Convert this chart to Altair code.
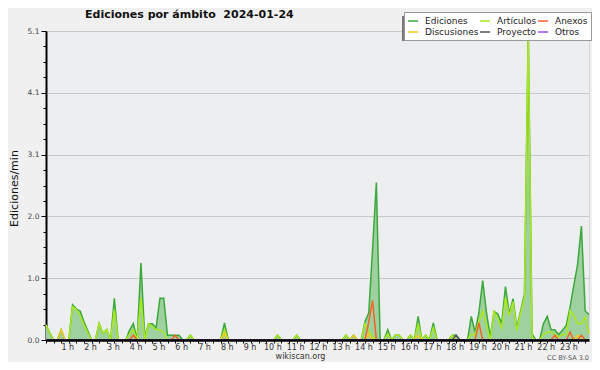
import altair as alt
import pandas as pd

# ---------------- data (one point every 10 minutes, 00:00 .. 23:50) ----------------
STEP_MIN = 10
series_names = ["Ediciones", "Artículos", "Anexos", "Discusiones", "Proyecto", "Otros"]
series_colors = ["#3ba83b", "#a8e81c", "#f26428", "#f5c81e", "#555555", "#9a4df0"]
draw_order = ["Ediciones", "Artículos", "Discusiones", "Anexos", "Proyecto", "Otros"]

ediciones = [
    0.25, 0.12, 0, 0, 0.17, 0, 0, 0.58, 0.51, 0.48, 0.30, 0.15,
    0, 0, 0.27, 0.11, 0.17, 0, 0.69, 0, 0, 0, 0.16, 0.27,
    0, 1.27, 0.05, 0.27, 0.27, 0.20, 0.69, 0.69, 0.08, 0.08, 0.08, 0.08,
    0, 0, 0.08, 0, 0, 0, 0, 0, 0, 0, 0, 0.28,
    0, 0, 0, 0, 0, 0, 0, 0, 0, 0, 0, 0,
    0, 0.08, 0, 0, 0, 0, 0.08, 0, 0, 0, 0, 0,
    0, 0, 0, 0, 0, 0, 0, 0.08, 0, 0.08, 0, 0,
    0.30, 0.45, 1.50, 2.60, 0, 0, 0.17, 0, 0.08, 0.08, 0, 0,
    0.08, 0, 0.39, 0, 0.08, 0, 0.28, 0, 0, 0, 0, 0.08,
    0.08, 0, 0, 0, 0.39, 0.13, 0.45, 0.98, 0.45, 0.05, 0.47, 0.43,
    0.27, 0.88, 0.43, 0.68, 0.20, 0.48, 0.76, 5.10, 0.10, 0, 0, 0.27,
    0.39, 0.17, 0.17, 0.09, 0.16, 0.24, 0.54, 0.90, 1.25, 1.88, 0.48, 0.42,
]
articulos = [
    0.25, 0.12, 0, 0, 0, 0, 0, 0.55, 0.50, 0.40, 0.25, 0.12,
    0, 0, 0.27, 0.11, 0.17, 0, 0.50, 0, 0, 0, 0.10, 0.17,
    0, 0.70, 0, 0.27, 0.22, 0.17, 0.17, 0.12, 0, 0, 0, 0,
    0, 0, 0.08, 0, 0, 0, 0, 0, 0, 0, 0, 0.17,
    0, 0, 0, 0, 0, 0, 0, 0, 0, 0, 0, 0,
    0, 0.08, 0, 0, 0, 0, 0.08, 0, 0, 0, 0, 0,
    0, 0, 0, 0, 0, 0, 0, 0.08, 0, 0, 0, 0,
    0.27, 0.15, 0.05, 0, 0, 0, 0.10, 0, 0.08, 0.08, 0, 0,
    0.08, 0, 0.27, 0, 0.08, 0, 0.20, 0, 0, 0, 0, 0.08,
    0, 0, 0, 0, 0.09, 0.09, 0.30, 0.48, 0.25, 0, 0.47, 0.35,
    0.20, 0.70, 0.40, 0.63, 0.15, 0.45, 0.70, 5.05, 0.05, 0, 0, 0.09,
    0.13, 0.13, 0.09, 0.05, 0.09, 0.09, 0.48, 0.40, 0.27, 0.27, 0.38, 0.10,
]
anexos = [
    0, 0, 0, 0, 0, 0, 0, 0, 0, 0, 0, 0,
    0, 0, 0, 0, 0, 0, 0, 0, 0, 0, 0, 0.08,
    0, 0, 0, 0, 0, 0, 0, 0, 0, 0, 0.08, 0,
    0, 0, 0, 0, 0, 0, 0, 0, 0, 0, 0, 0,
    0, 0, 0, 0, 0, 0, 0, 0, 0, 0, 0, 0,
    0, 0, 0, 0, 0, 0, 0, 0, 0, 0, 0, 0,
    0, 0, 0, 0, 0, 0, 0, 0, 0, 0, 0, 0,
    0, 0.30, 0.65, 0, 0, 0, 0, 0, 0, 0, 0, 0,
    0, 0, 0, 0, 0, 0, 0, 0, 0, 0, 0, 0,
    0, 0, 0, 0, 0, 0, 0.28, 0, 0, 0, 0, 0,
    0, 0, 0, 0, 0, 0, 0, 0, 0, 0, 0, 0,
    0, 0, 0.08, 0, 0, 0, 0.13, 0, 0, 0.08, 0, 0,
]
discusiones = [
    0, 0, 0, 0, 0.17, 0, 0, 0, 0, 0, 0, 0,
    0, 0, 0, 0, 0, 0, 0, 0, 0, 0, 0, 0,
    0, 0, 0, 0, 0, 0, 0, 0, 0, 0, 0, 0,
    0, 0, 0, 0, 0, 0, 0, 0, 0, 0, 0, 0.10,
    0, 0, 0, 0, 0, 0, 0, 0, 0, 0, 0, 0,
    0, 0, 0, 0, 0, 0, 0, 0, 0, 0, 0, 0,
    0, 0, 0, 0, 0, 0, 0, 0, 0, 0.08, 0, 0,
    0, 0.10, 0, 0, 0, 0, 0, 0, 0, 0, 0, 0,
    0, 0, 0.08, 0, 0, 0, 0, 0, 0, 0, 0, 0,
    0, 0, 0, 0, 0, 0, 0, 0, 0, 0, 0, 0,
    0, 0, 0, 0, 0, 0, 0, 0, 0, 0, 0, 0,
    0, 0, 0, 0, 0, 0, 0, 0, 0.08, 0, 0, 0,
]
proyecto = [
    0, 0, 0, 0, 0, 0, 0, 0, 0, 0, 0, 0,
    0, 0, 0, 0, 0, 0, 0, 0, 0, 0, 0, 0,
    0, 0, 0, 0, 0, 0, 0, 0, 0, 0, 0, 0,
    0, 0, 0, 0, 0, 0, 0, 0, 0, 0, 0, 0,
    0, 0, 0, 0, 0, 0, 0, 0, 0, 0, 0, 0,
    0, 0, 0, 0, 0, 0, 0, 0, 0, 0, 0, 0,
    0, 0, 0, 0, 0, 0, 0, 0, 0, 0, 0, 0,
    0, 0, 0, 0, 0, 0, 0, 0, 0, 0, 0, 0,
    0, 0, 0, 0, 0, 0, 0, 0, 0, 0, 0, 0,
    0.08, 0, 0, 0, 0, 0, 0, 0, 0, 0, 0, 0,
    0, 0, 0, 0, 0, 0, 0, 0, 0, 0, 0, 0,
    0, 0, 0, 0, 0, 0, 0, 0, 0, 0, 0, 0,
]
otros = [0] * 144

x_ticks = list(range(0, 1440, 20))                 # ticks every 20 minutes
y_ticks = [round(i * 0.255, 3) for i in range(21)]  # minor ticks
y_major = [0, 1.02, 2.04, 3.06, 4.08, 5.1]          # labelled ticks

title_text = "Ediciones por ámbito\u00a0\u00a02024-01-24"
y_title = "Ediciones/min"
site_text = "wikiscan.org"
license_text = "CC BY-SA 3.0"

# ---------------- tables ----------------
values = {
    "Ediciones": ediciones, "Artículos": articulos, "Anexos": anexos,
    "Discusiones": discusiones, "Proyecto": proyecto, "Otros": otros,
}
rows = []
for name in series_names:
    for k, v in enumerate(values[name]):
        rows.append({"serie": name, "minuto": k * STEP_MIN, "valor": v})
df = pd.DataFrame(rows)

FONT = "DejaVu Sans"
major_test = "indexof([" + ",".join(str(v) for v in y_major) + "], datum.value) >= 0"

PLOT_W, PLOT_H = 543, 309

x_enc = alt.X(
    "minuto:Q",
    scale=alt.Scale(domain=[0, 1430], nice=False, zero=False),
    axis=alt.Axis(
        values=x_ticks, title=None, grid=False,
        labelExpr="datum.value > 0 && datum.value % 60 == 0 ? (datum.value / 60) + ' h' : ''",
        labelOverlap=False, labelFlush=False, labelFont=FONT, labelFontSize=8,
        labelColor="#333333", labelPadding=0, labelOffset=-1.5, tickSize=3, tickColor="black",
        domainColor="black", domainWidth=2.5, zindex=1,
    ),
)
y_enc = alt.Y(
    "valor:Q",
    scale=alt.Scale(domain=[0, 5.1], nice=False, zero=True),
    axis=alt.Axis(
        values=y_ticks, title=None, grid=True, gridColor="#c8c8c8",
        gridOpacity={"condition": {"test": major_test, "value": 1}, "value": 0},
        tickSize={"condition": {"test": major_test, "value": 5}, "value": 3},
        labelExpr=major_test + " ? format(datum.value, '.1f') : ''",
        labelOverlap=False, labelFont=FONT, labelFontSize=7.5, labelColor="#444444",
        labelPadding=2, tickColor="black", domainColor="black", domainWidth=2,
    ),
)
legend_def = alt.Legend(
    orient="none", legendX=358, legendY=-19, columns=3, direction="horizontal",
    title=None, symbolType="stroke", symbolSize=100, symbolStrokeWidth=1.5,
    labelFont=FONT, labelFontSize=9, labelColor="#222222", labelOffset=6,
    columnPadding=-6, rowPadding=-1, padding=3,
    fillColor="white", strokeColor="#999999",
)
color_enc = alt.Color(
    "serie:N", scale=alt.Scale(domain=series_names, range=series_colors),
    legend=legend_def,
)

area = alt.Chart(df).transform_filter(alt.datum.serie == "Ediciones").mark_area(
    color="#9fd09f", opacity=1
).encode(x=x_enc, y=y_enc)

lines = [
    alt.Chart(df).transform_filter(alt.datum.serie == name).mark_line(
        strokeWidth=1.5
    ).encode(x=x_enc, y=y_enc, color=color_enc)
    for name in draw_order
]

one = pd.DataFrame({"a": [0]})
shadow = alt.Chart(one).mark_rect(color="#777777").encode(
    x=alt.value(356), x2=alt.value(547), y=alt.value(-15), y2=alt.value(10)
)
title = alt.Chart(pd.DataFrame({"t": [title_text]})).mark_text(
    font=FONT, fontSize=11, fontWeight="bold", align="left", baseline="alphabetic", color="#111111"
).encode(text="t:N", x=alt.value(39), y=alt.value(-13))
ytitle = alt.Chart(pd.DataFrame({"t": [y_title]})).mark_text(
    font=FONT, fontSize=11, angle=270, align="center", baseline="middle", color="#111111"
).encode(text="t:N", x=alt.value(-31.5), y=alt.value(157.5))
site = alt.Chart(pd.DataFrame({"t": [site_text]})).mark_text(
    font=FONT, fontSize=8, align="center", baseline="middle", color="#333333"
).encode(text="t:N", x=alt.value(254.5), y=alt.value(PLOT_H + 17))
lic = alt.Chart(pd.DataFrame({"t": [license_text]})).mark_text(
    font=FONT, fontSize=6.5, align="right", baseline="middle", color="#555555"
).encode(text="t:N", x=alt.value(543), y=alt.value(PLOT_H + 17.5))

chart = alt.layer(
    area, *lines, shadow, title, ytitle, site, lic
).properties(
    width=PLOT_W, height=PLOT_H,
    padding={"left": 38, "top": 23, "right": 3, "bottom": 354 - 23 - PLOT_H},
    autosize=alt.AutoSizeParams(type="none"),
    background="#f0f0f0",
).configure_view(fill="#edeef0", stroke="#d4d4d4")

chart.save("out.html", embed_options={"renderer": "svg", "actions": False})
